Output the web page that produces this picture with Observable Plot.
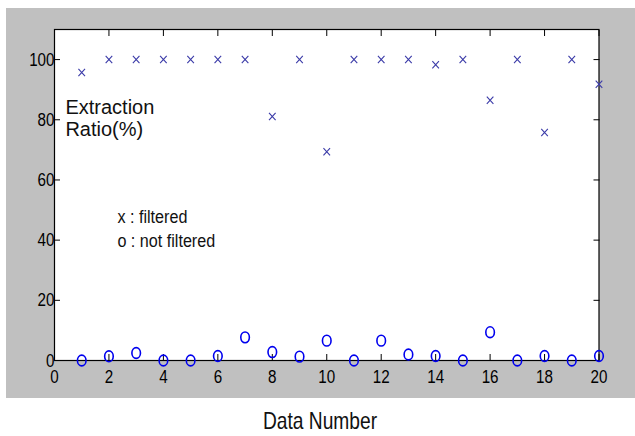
<!DOCTYPE html>
<html>
<head>
<meta charset="utf-8">
<script src="https://cdn.jsdelivr.net/npm/d3@7"></script>
<script src="https://cdn.jsdelivr.net/npm/@observablehq/plot@0.6"></script>
<style>
  html, body { margin: 0; padding: 0; background: #ffffff; width: 635px; height: 436px; overflow: hidden; }
  #panel { position: absolute; left: 6px; top: 8px; width: 629px; height: 390px; background: #c0c0c0; }
  #xlabel { position: absolute; left: 0; width: 640px; top: 407px; text-align: center;
            font-family: "Liberation Sans", Arial, sans-serif; font-size: 24px; color: #111;
            transform: scaleX(0.8); transform-origin: 320px 0; }
</style>
</head>
<body>
<div id="panel"></div>
<div id="xlabel">Data Number</div>
<script>
const dataNumber = [1,2,3,4,5,6,7,8,9,10,11,12,13,14,15,16,17,18,19,20];
const filtered    = [95.7,100,100,100,100,100,100,81.1,100,69.4,100,100,100,98.3,100,86.5,100,75.8,100,91.8];
const notFiltered = [0,1.4,2.5,0,0,1.5,7.7,2.8,1.3,6.6,0,6.6,2.0,1.5,0,9.4,0,1.5,0,1.5];
const xTicks = [0,2,4,6,8,10,12,14,16,18,20];
const yTicks = [0,20,40,60,80,100];
const titleLines = ["Extraction", "Ratio(%)"];
const titleY = [84.2, 76.9];
const legendLines = ["x : filtered", "o : not filtered"];
const legendY = [47.6, 39.6];

const pts = dataNumber.map((d, i) => ({n: d, f: filtered[i], o: notFiltered[i]}));

const ellipse = {
  draw(ctx, size) {
    const rx = 4.3, ry = 5.4, k = 0.5523;
    ctx.moveTo(rx, 0);
    ctx.bezierCurveTo(rx, ry * k, rx * k, ry, 0, ry);
    ctx.bezierCurveTo(-rx * k, ry, -rx, ry * k, -rx, 0);
    ctx.bezierCurveTo(-rx, -ry * k, -rx * k, -ry, 0, -ry);
    ctx.bezierCurveTo(rx * k, -ry, rx, -ry * k, rx, 0);
    ctx.closePath();
  }
};
const cross = {
  draw(ctx, size) {
    const a = 3.3, b = 3.6;
    ctx.moveTo(-a, -b); ctx.lineTo(a, b);
    ctx.moveTo(-a, b); ctx.lineTo(a, -b);
  }
};

const chart = Plot.plot({
  width: 629,
  height: 390,
  marginLeft: 48,
  marginRight: 36.5,
  marginTop: 21,
  marginBottom: 38,
  style: {background: "transparent", fontFamily: "'Liberation Sans', Arial, sans-serif", fontSize: "19px", color: "#000"},
  x: {domain: [0, 20]},
  y: {domain: [0, 110]},
  marks: [
    Plot.frame({fill: "white", stroke: "none"}),
    Plot.axisX({ticks: xTicks, tickSize: -6, tickPadding: 15, label: null, fontSize: 19, tickFormat: d => d}),
    Plot.axisX({anchor: "top", ticks: xTicks, tickSize: -6, text: null, label: null}),
    Plot.axisY({ticks: yTicks, tickSize: -6, tickPadding: 6, label: null, fontSize: 19, tickFormat: d => d}),
    Plot.axisY({anchor: "right", ticks: yTicks, tickSize: -6, text: null, label: null}),
    Plot.frame({stroke: "#000", strokeWidth: 1.2}),
    Plot.text(titleLines, {x: () => 0.4, y: (d, i) => titleY[i], text: d => d, textAnchor: "start",
      fontSize: 20, fill: "#111"}),
    Plot.text(legendLines, {x: () => 2.31, y: (d, i) => legendY[i], text: d => d, textAnchor: "start",
      fontSize: 19, fill: "#111"}),
    Plot.dot(pts, {x: "n", y: "f", symbol: cross, r: 3.5, stroke: "#3b3ba8", strokeWidth: 1.1}),
    Plot.dot(pts, {x: "n", y: "o", symbol: ellipse, r: 5, stroke: "#0000ee", strokeWidth: 1.6, fill: "none"})
  ]
});

// condense glyphs horizontally around each text's own anchor point
function condense(textEl, s) {
  let x = parseFloat(textEl.getAttribute("x"));
  if (!isFinite(x)) x = 0;
  const prev = textEl.getAttribute("transform") || "";
  textEl.setAttribute("transform", `${prev} translate(${x},0) scale(${s},1) translate(${-x},0)`);
}
chart.querySelectorAll('g[aria-label="x-axis tick label"] text, g[aria-label="y-axis tick label"] text')
  .forEach(t => condense(t, 0.8));
const textGroups = chart.querySelectorAll('g[aria-label="text"]');
if (textGroups[1]) textGroups[1].querySelectorAll("text").forEach(t => condense(t, 0.85));

document.getElementById("panel").appendChild(chart);
</script>
</body>
</html>
